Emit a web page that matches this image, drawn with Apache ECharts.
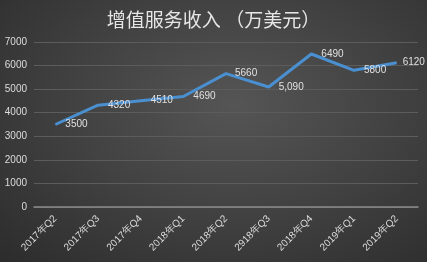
<!DOCTYPE html>
<html><head><meta charset="utf-8">
<script src="https://cdn.jsdelivr.net/npm/echarts@6/dist/echarts.min.js"></script>
<style>html,body{margin:0;padding:0;}#c{width:427px;height:262px;background:radial-gradient(ellipse at 55% 40%,#555 0%,#434343 45%,#2c2c2c 100%);}</style>
</head><body><div id="c"></div>
<script>
const categories = ['2017年Q2','2017年Q3','2017年Q4','2018年Q1','2018年Q2','2918年Q3','2018年Q4','2019年Q1','2019年Q2'];
const values = [3500,4320,4510,4690,5660,5090,6490,5800,6120];
const valueLabels = ['3500','4320','4510','4690','5660','5,090','6490','5800','6120'];
const labelOffsets = [[5,0],[5,0],[5,0],[5,0],[4,0],[5,0],[5,0],[5,0],[1,0]];
const chart = echarts.init(document.getElementById('c'));
chart.setOption({
  backgroundColor:'transparent',
  title:{text:'增值服务收入 （万美元）',left:'center',top:5,textStyle:{color:'#e6e6e6',fontSize:19,fontWeight:'normal',fontFamily:'Noto Sans CJK SC'}},
  grid:{left:34,right:9,top:42,bottom:55},
  xAxis:{type:'category',data:categories,boundaryGap:true,
    axisLine:{lineStyle:{color:'#8a8a8a',width:1.5}},axisTick:{show:false},
    axisLabel:{color:'#dcdcdc',fontSize:10,rotate:45,margin:10,fontFamily:'Liberation Sans'}},
  yAxis:{type:'value',min:0,max:7000,interval:1000,
    axisLine:{show:false},axisTick:{show:false},
    axisLabel:{color:'#dcdcdc',fontSize:10,margin:7,fontFamily:'Liberation Sans',formatter:v=>String(v)},
    splitLine:{lineStyle:{color:'#5c5c5c',width:1}}},
  series:[{type:'line',data:values.map((v,i)=>({value:v,label:{offset:labelOffsets[i],formatter:valueLabels[i]}})),
    symbol:'circle',symbolSize:0,showSymbol:true,itemStyle:{color:'#4a8fd0'},
    lineStyle:{color:'#4a8fd0',width:3},
    label:{show:true,position:'right',color:'#e0e0e0',fontSize:10,fontFamily:'Liberation Sans'}}]
});
</script></body></html>
